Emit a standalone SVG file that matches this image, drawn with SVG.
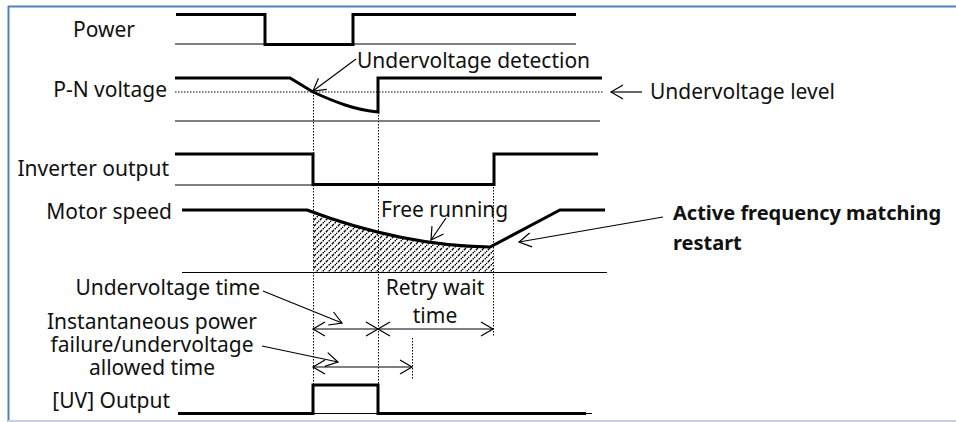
<svg xmlns="http://www.w3.org/2000/svg" width="956" height="422" viewBox="0 0 956 422">
<style>
text{font-family:"Noto Sans","Liberation Sans",sans-serif;font-size:21px;fill:#111}
.b{font-weight:bold;font-size:20px}
.thick{fill:none;stroke:#000;stroke-width:3;stroke-linejoin:miter}
.thin{fill:none;stroke:#000;stroke-width:1.2}
.dot{fill:none;stroke:#000;stroke-width:1;stroke-dasharray:1.5 1.5}
.arr{fill:none;stroke:#000;stroke-width:1.2;marker-end:url(#oa)}
.dbl{fill:none;stroke:#000;stroke-width:1.2;marker-start:url(#oas);marker-end:url(#oa)}
</style>
<defs>
<marker id="oa" markerUnits="userSpaceOnUse" markerWidth="20" markerHeight="20" refX="16" refY="10" orient="auto" viewBox="0 0 20 20">
<path d="M4,3 L16,10 L4,17" fill="none" stroke="#000" stroke-width="1.2"/>
</marker>
<marker id="oas" markerUnits="userSpaceOnUse" markerWidth="20" markerHeight="20" refX="4" refY="10" orient="auto" viewBox="0 0 20 20">
<path d="M16,3 L4,10 L16,17" fill="none" stroke="#000" stroke-width="1.2"/>
</marker>
<pattern id="hatch" patternUnits="userSpaceOnUse" width="6" height="6">
<path d="M-1,7 L7,-1" stroke="#000" stroke-width="1.3" stroke-dasharray="3 1"/>
</pattern>
<clipPath id="hc"><rect x="313" y="200" width="180" height="80"/></clipPath>
</defs>
<g id="frame">
<line x1="8" y1="6.5" x2="956" y2="6.5" stroke="#4f81bd" stroke-width="2"/>
<line x1="8.5" y1="6" x2="8.5" y2="422" stroke="#4f81bd" stroke-width="2"/>
<line x1="8" y1="421" x2="956" y2="421" stroke="#c8d0df" stroke-width="2"/>
</g>
<g id="power">
<text x="135" y="37" text-anchor="end">Power</text>
<line class="thin" x1="175" y1="44" x2="576" y2="44"/>
<path class="thick" d="M176,14.5 L265,14.5 L265,44.5 L353,44.5 L353,14.5 L576,14.5"/>
</g>
<g id="pn-voltage">
<text x="167" y="97" text-anchor="end">P-N voltage</text>
<line class="thin" x1="175" y1="121" x2="600" y2="121"/>
<line class="dot" x1="175" y1="92" x2="603" y2="92"/>
<path class="thick" d="M175,78 L290,78 L313,92 C335,102 355,110 378,112 L378,78 L602,78"/>
<text x="357" y="68">Undervoltage detection</text>
<text x="650" y="99">Undervoltage level</text>
</g>
<g id="inverter-output">
<text x="169" y="176" text-anchor="end">Inverter output</text>
<line class="thin" x1="175" y1="185" x2="313" y2="185"/>
<path class="thick" d="M175,154 L313,154 L313,184.5 L494,184.5 L494,154 L598,154"/>
</g>
<g id="motor-speed">
<text x="172" y="219" text-anchor="end">Motor speed</text>
<line class="thin" x1="182" y1="272.5" x2="607" y2="272.5"/>
<path d="M307,210 C360,230 420,246 490,247 L494,247 L494,272 L307,272 Z" fill="url(#hatch)" clip-path="url(#hc)"/>
<path class="thick" d="M182,210 L307,210 C360,230 420,246 490,247 L560,210 L605,210"/>
<text x="381" y="217">Free running</text>
<text class="b" x="673" y="220">Active frequency matching</text>
<text class="b" x="673" y="250">restart</text>
</g>
<g id="timing-labels">
<text x="260" y="295" text-anchor="end">Undervoltage time</text>
<text x="152" y="329" text-anchor="middle">Instantaneous power</text>
<text x="152" y="352" text-anchor="middle">failure/undervoltage</text>
<text x="152" y="375" text-anchor="middle">allowed time</text>
<text x="435" y="295" text-anchor="middle">Retry wait</text>
<text x="435" y="323" text-anchor="middle">time</text>
</g>
<g id="uv-output">
<text x="170" y="408" text-anchor="end">[UV] Output</text>
<line class="thin" x1="178" y1="413.5" x2="592" y2="413.5"/>
<path class="thick" d="M178,413.5 L313,413.5 L313,385 L378,385 L378,413.5 L586,413.5"/>
</g>
<g id="connectors">
<line class="dot" x1="313.5" y1="92" x2="313.5" y2="385"/>
<line class="dot" x1="378.5" y1="112" x2="378.5" y2="385"/>
<line class="dot" x1="493.5" y1="184" x2="493.5" y2="337"/>
<line class="dot" x1="412.5" y1="338" x2="412.5" y2="380"/>
<line class="arr" x1="642" y1="92" x2="611" y2="92"/>
<line class="arr" x1="356" y1="59" x2="313" y2="91"/>
<line class="arr" x1="446" y1="218" x2="431" y2="240"/>
<line class="arr" x1="663" y1="217" x2="519" y2="242"/>
<line class="arr" x1="263" y1="291" x2="342" y2="323"/>
<line class="arr" x1="262" y1="346" x2="338" y2="362"/>
<line class="dbl" x1="313" y1="329" x2="378" y2="329"/>
<line class="dbl" x1="378" y1="329" x2="493" y2="329"/>
<line class="dbl" x1="313" y1="367" x2="412" y2="367"/>
</g>
</svg>
